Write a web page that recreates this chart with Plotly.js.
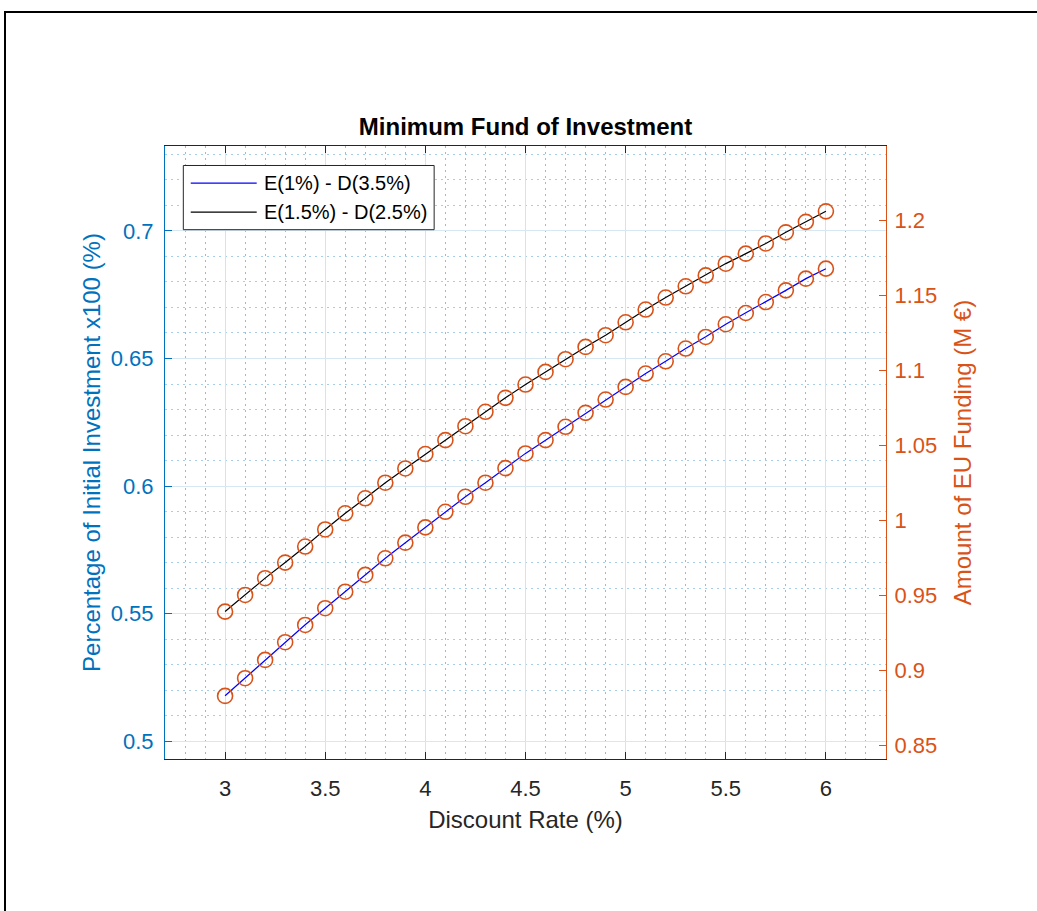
<!DOCTYPE html>
<html>
<head>
<meta charset="utf-8">
<script src="https://cdn.plot.ly/plotly-3.0.1.min.js"></script>
<style>
html,body{margin:0;padding:0;background:#fff;overflow:hidden;}
#chart{position:absolute;left:0;top:0;width:1037px;height:911px;}
#frame{position:absolute;left:4px;top:11px;width:1100px;height:1000px;border:2px solid #000;pointer-events:none;}
</style>
</head>
<body>
<div id="chart"></div>
<div id="frame"></div>
<script>
const discountRate = [3.0,3.1,3.2,3.3,3.4,3.5,3.6,3.7,3.8,3.9,4.0,4.1,4.2,4.3,4.4,4.5,4.6,4.7,4.8,4.9,5.0,5.1,5.2,5.3,5.4,5.5,5.6,5.7,5.8,5.9,6.0];
const seriesNames = ['E(1%) - D(3.5%)', 'E(1.5%) - D(2.5%)'];
const pctA = [0.5178,0.5247,0.5319,0.5388,0.5456,0.5521,0.5586,0.5652,0.5717,0.5778,0.5838,0.5899,0.5958,0.6013,0.6070,0.6128,0.6180,0.6232,0.6287,0.6339,0.6389,0.6441,0.6489,0.6539,0.6585,0.6634,0.6679,0.6722,0.6767,0.6813,0.6852];
const pctB = [0.5508,0.5573,0.5639,0.5700,0.5763,0.5830,0.5893,0.5952,0.6013,0.6069,0.6125,0.6180,0.6235,0.6291,0.6346,0.6398,0.6448,0.6497,0.6545,0.6591,0.6642,0.6692,0.6739,0.6783,0.6826,0.6872,0.6911,0.6951,0.6995,0.7036,0.7077];
const fundA = [0.8828,0.8946,0.9068,0.9186,0.9301,0.9413,0.9523,0.9635,0.9746,0.9850,0.9952,1.0056,1.0156,1.0250,1.0347,1.0445,1.0534,1.0623,1.0716,1.0805,1.0889,1.0978,1.1060,1.1145,1.1222,1.1307,1.1382,1.1455,1.1533,1.1611,1.1678];
const fundB = [0.9390,0.9501,0.9613,0.9717,0.9824,0.9938,1.0046,1.0146,1.0250,1.0345,1.0441,1.0534,1.0627,1.0723,1.0816,1.0905,1.0989,1.1074,1.1156,1.1234,1.1320,1.1405,1.1485,1.1560,1.1633,1.1711,1.1778,1.1846,1.1920,1.1990,1.2060];
const xTicks = [3,3.5,4,4.5,5,5.5,6];
const yTicks = [0.5,0.55,0.6,0.65,0.7];
const y2Ticks = [0.85,0.9,0.95,1,1.05,1.1,1.15,1.2];

const FONT = 'Liberation Sans, Arial, Helvetica, sans-serif';
const BLUE_AX = '#0072BD';
const ORANGE = '#D95319';
const DARK = '#262626';
const lineColors = ['#0000FF', '#000000'];

const traces = [
  {x: discountRate, y: pctA, name: seriesNames[0], type: 'scatter', mode: 'lines',
   line: {color: lineColors[0], width: 1.2}, yaxis: 'y', showlegend: false},
  {x: discountRate, y: pctB, name: seriesNames[1], type: 'scatter', mode: 'lines',
   line: {color: lineColors[1], width: 1.2}, yaxis: 'y', showlegend: false},
  {x: discountRate, y: fundA, type: 'scatter', mode: 'markers', yaxis: 'y2', showlegend: false,
   marker: {symbol: 'circle-open', size: 15, color: ORANGE, line: {width: 1.6, color: ORANGE}}},
  {x: discountRate, y: fundB, type: 'scatter', mode: 'markers', yaxis: 'y2', showlegend: false,
   marker: {symbol: 'circle-open', size: 15, color: ORANGE, line: {width: 1.6, color: ORANGE}}}
];

// legend box geometry (paper coords)
const lg = {x0: 0.0254, x1: 0.3733, y0: 0.8635, y1: 0.9682, lx0: 0.0357, lx1: 0.1272, tx: 0.1342, rows: [0.9394, 0.8921]};
const shapes = [
  {type: 'rect', xref: 'paper', yref: 'paper', x0: lg.x0, x1: lg.x1, y0: lg.y0, y1: lg.y1,
   fillcolor: '#ffffff', line: {color: DARK, width: 1}, layer: 'above'}
];
const annotations = [];
seriesNames.forEach((nm, i) => {
  shapes.push({type: 'line', xref: 'paper', yref: 'paper', x0: lg.lx0, x1: lg.lx1, y0: lg.rows[i], y1: lg.rows[i],
    line: {color: lineColors[i], width: 1.2}, layer: 'above'});
  annotations.push({xref: 'paper', yref: 'paper', x: lg.tx, y: lg.rows[i], xanchor: 'left', yanchor: 'middle',
    text: nm, showarrow: false, font: {family: FONT, size: 20, color: '#000'}});
});

const layout = {
  width: 1037, height: 911,
  margin: {l: 165, r: 151.3, t: 145.5, b: 151.7, pad: 0},
  paper_bgcolor: '#ffffff', plot_bgcolor: '#ffffff',
  font: {family: FONT, color: DARK},
  title: {text: 'Minimum Fund of Investment', font: {family: FONT, size: 24, color: '#000', weight: 'bold'},
          x: 0.5, xref: 'paper', y: 1 - 127/911, yref: 'container', yanchor: 'middle'},
  showlegend: false,
  xaxis: {
    range: [2.7, 6.3], tickvals: xTicks, ticktext: xTicks.map(String),
    showline: true, linecolor: DARK, linewidth: 1, mirror: 'ticks',
    ticks: 'inside', ticklen: 7, tickcolor: DARK, tickwidth: 1,
    showgrid: true, gridcolor: '#e0e0e0', gridwidth: 1, zeroline: false,
    tickfont: {family: FONT, size: 22, color: DARK}, ticklabelstandoff: 10,
    minor: {dtick: 0.1, tick0: 0, showgrid: true, gridcolor: '#b4b4b4', griddash: '1.5px,4.5px', gridwidth: 1, ticks: ''},
    title: {text: 'Discount Rate (%)', font: {family: FONT, size: 24, color: DARK}, standoff: 10}
  },
  yaxis: {
    range: [0.4930, 0.7333], tickvals: yTicks, ticktext: yTicks.map(String),
    showline: true, linecolor: BLUE_AX, linewidth: 1, mirror: false,
    ticks: 'inside', ticklen: 7, tickcolor: BLUE_AX, tickwidth: 1,
    showgrid: true, gridcolor: '#d6e8f4', gridwidth: 1, zeroline: false,
    tickfont: {family: FONT, size: 22, color: BLUE_AX}, ticklabelstandoff: 6,
    minor: {dtick: 0.01, tick0: 0, showgrid: true, gridcolor: '#a6cde9', griddash: '1.5px,4.5px', gridwidth: 1, ticks: ''},
    title: {text: 'Percentage of Initial Investment x100 (%)', font: {family: FONT, size: 24, color: BLUE_AX}, standoff: 3}
  },
  yaxis2: {
    range: [0.8407, 1.2496], tickvals: y2Ticks, ticktext: y2Ticks.map(String),
    overlaying: 'y', side: 'right', anchor: 'x',
    showline: true, linecolor: ORANGE, linewidth: 1, mirror: false,
    ticks: 'inside', ticklen: 7, tickcolor: ORANGE, tickwidth: 1,
    showgrid: false, zeroline: false,
    tickfont: {family: FONT, size: 22, color: ORANGE}, ticklabelstandoff: 3,
    title: {text: 'Amount of EU Funding (M €)', font: {family: FONT, size: 24, color: ORANGE}, standoff: 17}
  },
  shapes: shapes,
  annotations: annotations
};

Plotly.newPlot('chart', traces, layout, {displayModeBar: false, staticPlot: true});
</script>
</body>
</html>
